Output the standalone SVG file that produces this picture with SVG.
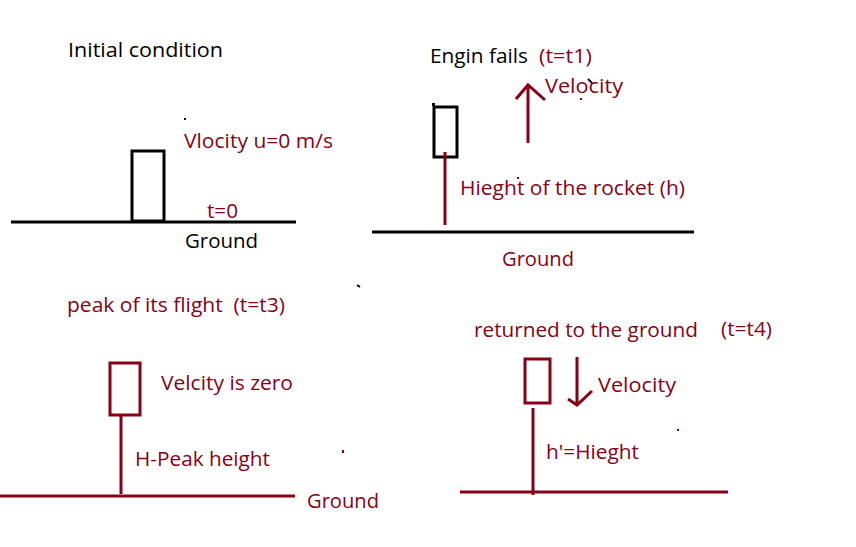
<svg xmlns="http://www.w3.org/2000/svg" width="856" height="547" viewBox="0 0 856 547">
<style>
text{font-family:"Open Sans","Liberation Sans",sans-serif;font-size:19.5px;}
.k{fill:#000;}
.r{fill:#880015;}
.lk{stroke:#000;stroke-width:3;fill:none;}
.lr{stroke:#880015;stroke-width:3;fill:none;}
</style>
<rect width="856" height="547" fill="#fff"/>
<g id="initial">
<text class="k" x="68" y="57" textLength="155" lengthAdjust="spacingAndGlyphs">Initial condition</text>
<rect x="184" y="118" width="2" height="2" fill="#000"/>
<text class="r" x="184" y="148" textLength="149" lengthAdjust="spacingAndGlyphs">Vlocity u=0 m/s</text>
<rect class="lk" x="132" y="151" width="32" height="70"/>
<line class="lk" x1="11" y1="222" x2="296" y2="222"/>
<text class="r" x="207" y="218" textLength="31" lengthAdjust="spacingAndGlyphs">t=0</text>
<text class="k" x="185" y="248" textLength="73" lengthAdjust="spacingAndGlyphs">Ground</text>
</g>
<g id="engine-fails">
<text class="k" x="430" y="63" textLength="98" lengthAdjust="spacingAndGlyphs">Engin fails</text>
<text class="r" x="539" y="63" textLength="53" lengthAdjust="spacingAndGlyphs">(t=t1)</text>
<text class="r" x="545" y="93" textLength="78" lengthAdjust="spacingAndGlyphs">Velocity</text>
<path d="M588 79 L592 83" stroke="#000" stroke-width="2"/>
<rect x="580" y="98" width="2" height="2" fill="#880015"/>
<rect class="lk" x="434" y="107" width="23" height="50"/>
<rect x="432" y="103" width="3" height="3" fill="#000"/>
<line class="lr" x1="445" y1="152" x2="445" y2="225"/>
<text class="r" x="460" y="195" textLength="225" lengthAdjust="spacingAndGlyphs">Hieght of the rocket (h)</text>
<rect x="517" y="177" width="2" height="2" fill="#880015"/>
<line class="lk" x1="372" y1="232" x2="694" y2="232"/>
<text class="r" x="502" y="266" textLength="72" lengthAdjust="spacingAndGlyphs">Ground</text>
</g>
<g id="peak">
<text class="r" x="67" y="312" textLength="218" lengthAdjust="spacingAndGlyphs" xml:space="preserve">peak of its flight  (t=t3)</text>
<path d="M357 285 L360 287" stroke="#000" stroke-width="2"/>
<rect class="lr" x="110" y="363" width="30" height="52"/>
<line class="lr" x1="121" y1="416" x2="121" y2="494"/>
<text class="r" x="161" y="390" textLength="132" lengthAdjust="spacingAndGlyphs">Velcity is zero</text>
<text class="r" x="135" y="466" textLength="135" lengthAdjust="spacingAndGlyphs">H-Peak height</text>
<rect x="342" y="450" width="2" height="3" fill="#880015"/>
<line class="lr" x1="0" y1="496" x2="295" y2="496"/>
<text class="r" x="307" y="508" textLength="72" lengthAdjust="spacingAndGlyphs">Ground</text>
</g>
<g id="returned">
<text class="r" x="474" y="337" textLength="224" lengthAdjust="spacingAndGlyphs">returned to the ground</text>
<text class="r" x="721" y="336" textLength="51" lengthAdjust="spacingAndGlyphs">(t=t4)</text>
<rect class="lr" x="525" y="359" width="25" height="44"/>
<line class="lr" x1="533" y1="408" x2="533" y2="495"/>
<text class="r" x="598" y="392" textLength="78" lengthAdjust="spacingAndGlyphs">Velocity</text>
<rect x="677" y="429" width="2" height="2" fill="#880015"/>
<text class="r" x="546" y="459" textLength="93" lengthAdjust="spacingAndGlyphs">h'=Hieght</text>
<line class="lr" x1="460" y1="492" x2="728" y2="492"/>
</g>
<g id="connectors">
<path class="lr" d="M528 143 L528 85 M516 99 L528 85 L545 100"/>
<path class="lr" d="M577 357 L577 405 M568 399 L577 405 L592 391"/>
</g>
</svg>
